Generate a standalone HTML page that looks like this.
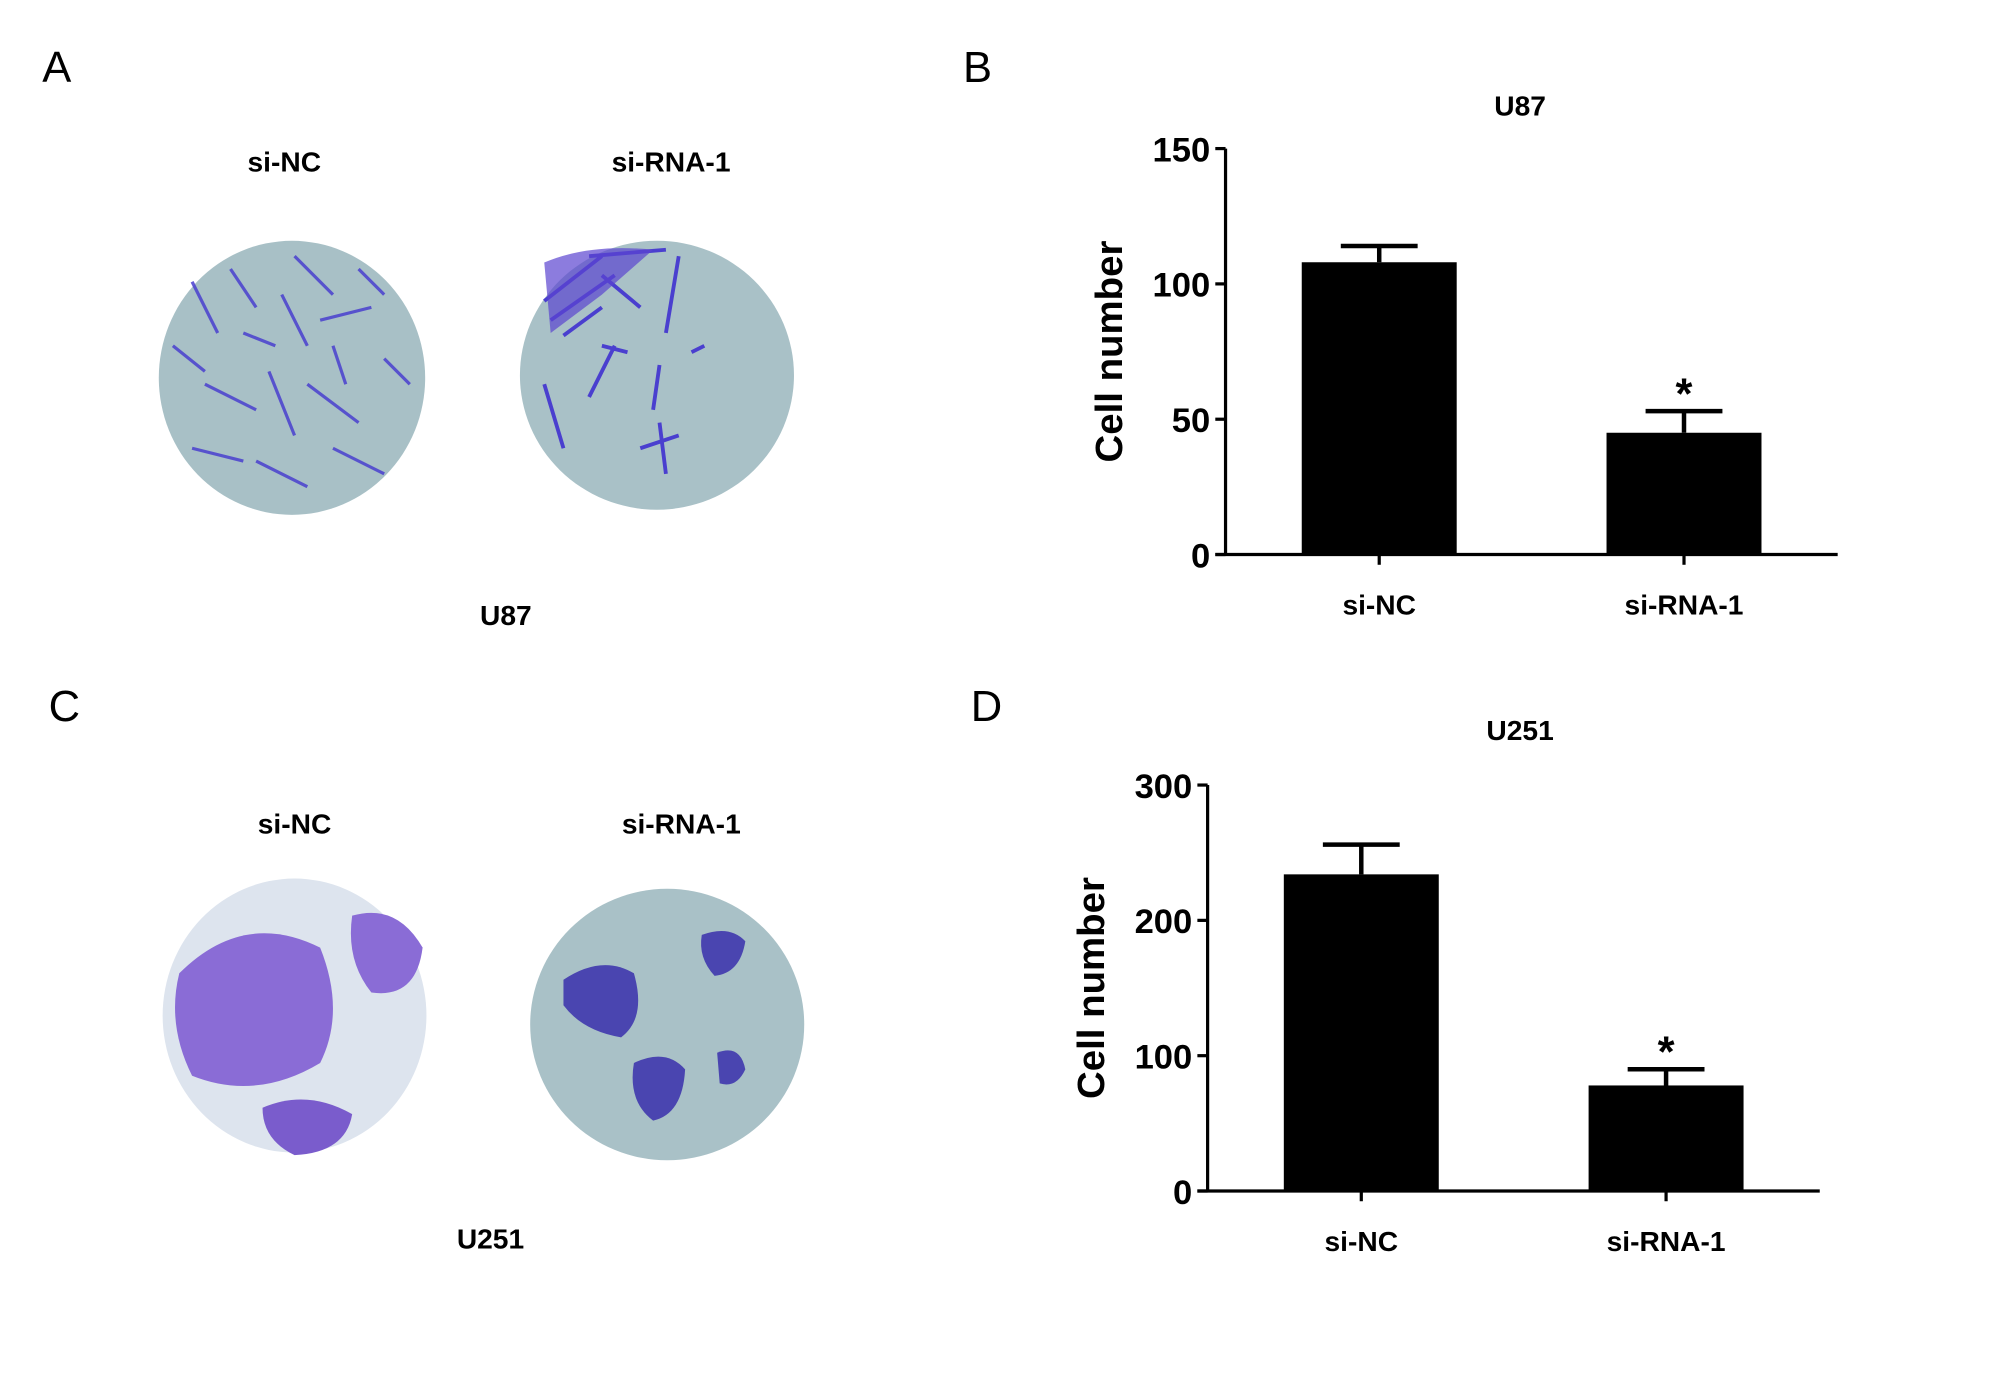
<!DOCTYPE html>
<html><head><meta charset="utf-8"><style>
html,body{margin:0;padding:0;background:#fff;}
svg{display:block;font-family:"Liberation Sans",Arial,sans-serif;}
.b{font-weight:bold;}
</style></head><body>
<svg id="fig" width="2008" height="1378" viewBox="0 0 1568 1076" xmlns="http://www.w3.org/2000/svg">
<rect width="1568" height="1076" fill="#fff"/>
<text x="33" y="64" font-size="34">A</text>
<text x="752" y="64" font-size="34">B</text>
<text x="38" y="563" font-size="34">C</text>
<text x="758" y="563" font-size="34">D</text>
<g>
<text class="b" x="222" y="134" font-size="22" text-anchor="middle">si-NC</text>
<text class="b" x="524" y="134" font-size="22" text-anchor="middle">si-RNA-1</text>
<ellipse cx="228" cy="295" rx="104" ry="107" fill="#a8c0c6"/>
<g id="texA1" stroke="#4a3fcf" stroke-width="2.5" fill="none" opacity="0.85"></g>
<ellipse cx="513" cy="293" rx="107" ry="105" fill="#a9c1c7"/>
<g stroke="#4a3fcf" stroke-width="3" fill="none">
<path d="M425 235 L470 200 M430 250 L480 215 M440 262 L470 240 M460 200 L520 195 M470 215 L500 240 M530 200 L520 260"/>
<path d="M425 300 L440 350 M460 310 L480 270 M470 270 L490 275 M540 275 L550 270 M515 285 L510 320 M500 350 L530 340 M515 330 L520 370"/>
</g>
<path d="M425 205 Q460 190 510 195 L470 230 L430 260 Z" fill="#5b45d0" opacity="0.7"/>
<text class="b" x="395" y="488" font-size="22" text-anchor="middle">U87</text>
</g>
<g>
<text class="b" x="230" y="651" font-size="22" text-anchor="middle">si-NC</text>
<text class="b" x="532" y="651" font-size="22" text-anchor="middle">si-RNA-1</text>
<ellipse cx="230" cy="793" rx="103" ry="107" fill="#dde4ee"/>
<path d="M140 760 Q190 710 250 740 Q270 790 250 830 Q200 860 150 840 Q130 800 140 760Z" fill="#8a6cd6"/>
<path d="M275 715 Q310 705 330 740 Q325 780 290 775 Q270 750 275 715Z" fill="#8a6cd6"/>
<path d="M205 865 Q240 850 275 870 Q270 900 230 902 Q205 890 205 865Z" fill="#7a5ccc"/>
<ellipse cx="521" cy="800" rx="107" ry="106" fill="#a9c1c7"/>
<path d="M440 765 Q470 745 495 760 Q505 795 485 810 Q455 805 440 785Z" fill="#4a45b0"/>
<path d="M548 730 Q570 722 582 735 Q578 760 558 762 Q545 748 548 730Z" fill="#4a45b0"/>
<path d="M495 830 Q520 818 535 835 Q533 870 510 875 Q490 860 495 830Z" fill="#4a45b0"/>
<path d="M560 822 Q578 815 582 835 Q575 850 562 846Z" fill="#4a45b0"/>
<text class="b" x="383" y="975" font-size="22" text-anchor="middle">U251</text>
</g>
<g id="chartB"></g>
<g id="chartD"></g>
</svg>
<script>
const NS="http://www.w3.org/2000/svg";
const categories=["si-NC","si-RNA-1"];
const u87Values=[108,45];
const u87Errors=[6,8];
const u87Ticks=[0,50,100,150];
const u251Values=[234,78];
const u251Errors=[22,12];
const u251Ticks=[0,100,200,300];
const sigMarks=["","*"];

(function(){
  const g=document.getElementById('texA1');
  const pts=[[150,220,170,260],[180,210,200,240],[230,200,260,230],[250,250,290,240],[160,300,200,320],[210,290,230,340],[240,300,280,330],[300,280,320,300],[150,350,190,360],[200,360,240,380],[260,350,300,370],[220,230,240,270],[280,210,300,230],[135,270,160,290],[190,260,215,270],[260,270,270,300]];
  pts.forEach(p=>{const l=document.createElementNS(NS,'line');
    l.setAttribute('x1',p[0]);l.setAttribute('y1',p[1]);l.setAttribute('x2',p[2]);l.setAttribute('y2',p[3]);g.appendChild(l);});
})();

function el(tag,attrs,parent,text){const e=document.createElementNS(NS,tag);for(const k in attrs)e.setAttribute(k,attrs[k]);if(text!==undefined)e.textContent=text;parent.appendChild(e);return e;}

function drawChart(gid,cfg,values,errors,ticks){
  const g=document.getElementById(gid);
  const maxV=ticks[ticks.length-1];
  const y=v=>cfg.y0-(v/maxV)*(cfg.y0-cfg.yTop);
  const xc=i=>cfg.c0+i*cfg.step;
  const t=el('text',{x:cfg.titleX,y:cfg.titleY,'font-size':22,'font-weight':'bold','text-anchor':'middle'},g,cfg.title);
  
  
  const yt=el('text',{transform:`translate(${cfg.ax-81},${(cfg.y0+cfg.yTop)/2}) rotate(-90)`,'font-size':30,'font-weight':'bold','text-anchor':'middle'},g,'Cell number');
  
  
  const ya=el('line',{x1:cfg.ax,y1:cfg.yTop,x2:cfg.ax,y2:cfg.y0,stroke:'#000','stroke-width':2.5},g);
  
  
  ticks.forEach(v=>{
    el('line',{x1:cfg.ax-8,y1:y(v),x2:cfg.ax,y2:y(v),stroke:'#000','stroke-width':2.5},g);
    const tl=el('text',{x:cfg.ax-12,y:y(v)+10,'font-size':27,'font-weight':'bold','text-anchor':'end'},g,String(v));
    
    
  });
  const xa=el('line',{x1:cfg.ax-8,y1:cfg.y0,x2:cfg.xEnd,y2:cfg.y0,stroke:'#000','stroke-width':2.5},g);
  
  
  categories.forEach((c,i)=>{
    const cx=xc(i);
    const bar=el('rect',{x:cx-cfg.bw/2,y:y(values[i]),width:cfg.bw,height:cfg.y0-y(values[i]),fill:'#000'},g);
    
    
    const top=y(values[i]+errors[i]);
    const eb=el('path',{d:`M${cx} ${y(values[i])} V${top} M${cx-30} ${top} H${cx+30}`,stroke:'#000','stroke-width':3.5,fill:'none'},g);
    
    
    el('line',{x1:cx,y1:cfg.y0,x2:cx,y2:cfg.y0+8,stroke:'#000','stroke-width':2.5},g);
    const xl=el('text',{x:cx,y:cfg.y0+47,'font-size':22,'font-weight':'bold','text-anchor':'middle'},g,c);
    
    
    if(sigMarks[i]){
      const s=el('text',{x:cx,y:top-2,'font-size':34,'font-weight':'bold','text-anchor':'middle'},g,sigMarks[i]);
      
      
    }
  });
}
drawChart('chartB',{title:'U87',titleX:1187,titleY:90,ax:957,y0:433,yTop:116,c0:1077,step:238,bw:121,xEnd:1435},u87Values,u87Errors,u87Ticks);
drawChart('chartD',{title:'U251',titleX:1187,titleY:578,ax:943,y0:930,yTop:613,c0:1063,step:238,bw:121,xEnd:1421},u251Values,u251Errors,u251Ticks);
</script>
</body></html>
